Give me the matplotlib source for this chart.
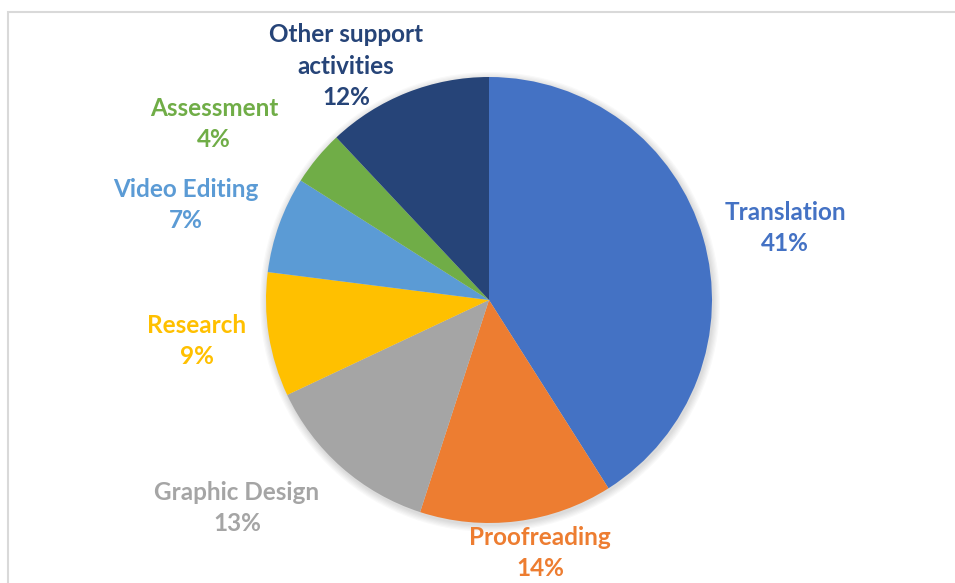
import matplotlib.pyplot as plt
from matplotlib.patches import Circle, Rectangle

# Share of work by activity
categories = ['Translation', 'Proofreading', 'Graphic Design', 'Research',
              'Video Editing', 'Assessment', 'Other support\nactivities']
shares = [41, 14, 13, 9, 7, 4, 12]
colors = ['#4472C4', '#ED7D31', '#A5A5A5', '#FFC000', '#5B9BD5', '#70AD47', '#264478']

# label centres in pixel coords (x, y from top)
label_pos = [(785, 228), (540, 553), (237, 508), (197, 341),
             (186, 205), (214, 124), (346, 66)]

W, H = 955, 583
fig = plt.figure(figsize=(W / 100, H / 100), dpi=100)
ax = fig.add_axes([0, 0, 1, 1])
ax.set_xlim(0, W)
ax.set_ylim(0, H)
ax.set_aspect('equal')
ax.axis('off')

# chart frame (cut by the image edge on the right and bottom)
ax.add_patch(Rectangle((8, -20), W + 20, H - 12 + 20, fill=False,
                       edgecolor='#D9D9D9', linewidth=1.5))

cx, cy, r = 489, H - 300, 223

# soft shadow
for i in range(6):
    ax.add_patch(Circle((cx + 1, cy - 2), r + 1 + i * 1.2, color='black',
                        alpha=0.025, linewidth=0, zorder=1))

ax.pie(shares, colors=colors, startangle=90, counterclock=False,
       center=(cx, cy), radius=r, frame=True,
       wedgeprops={'linewidth': 0, 'zorder': 2})
ax.set_xlim(0, W)
ax.set_ylim(0, H)
ax.axis('off')

for name, val, col, (px, py) in zip(categories, shares, colors, label_pos):
    ax.text(px, H - py, f'{name}\n{val}%', color=col, ha='center', va='center',
            fontsize=17.5, fontweight='bold', family='Lato', linespacing=1.47)

fig.savefig('out.png', dpi=100)
